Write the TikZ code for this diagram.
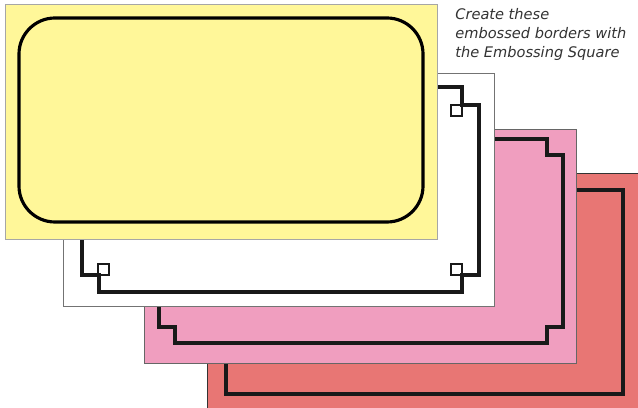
\documentclass[tikz,border=0pt]{standalone}
\usepackage{fontspec}
\newfontfamily\notefont{DejaVu Sans}
\definecolor{cardyellow}{RGB}{255,247,153}
\definecolor{cardpink}{RGB}{240,158,191}
\definecolor{cardred}{RGB}{232,118,116}
\tikzset{
  card/.style={draw=#1,line width=0.5pt},
  emboss/.style={draw=black!90,line width=1.8pt,line join=miter},
  loopsq/.style={draw=black!90,line width=1.5pt}
}
\begin{document}
\begin{tikzpicture}[x=0.02cm,y=-0.02cm]
  \useasboundingbox (0,0) rectangle (638,408);
  % red card
  \fill[cardred] (207,173) rectangle (640,410);
  \draw[card=black!80] (640,173) -- (207,173) -- (207,410);
  \draw[emboss] (226,190) rectangle (623,394);
  % pink card
  \filldraw[card=black!60,fill=cardpink] (144,129) rectangle (576,363);
  \draw[emboss] (175,139) -- (547,139) -- (547,155) -- (563,155) -- (563,327)
    -- (547,327) -- (547,343) -- (175,343) -- (175,327) -- (159,327)
    -- (159,155) -- (175,155) -- cycle;
  % white card
  \filldraw[card=black!55,fill=white] (63,73) rectangle (494,306);
  \draw[emboss] (99,87) -- (462,87) -- (462,105) -- (479,105) -- (479,275)
    -- (462,275) -- (462,292) -- (99,292) -- (99,275) -- (82,275)
    -- (82,105) -- (99,105) -- cycle;
  \foreach \x/\y in {451/105,451/264,98/264,98/105}
    \draw[loopsq] (\x,\y) rectangle ++(11,11);
  % yellow card
  \filldraw[card=black!35,fill=cardyellow] (5,4) rectangle (437,239);
  \draw[line width=1.8pt,rounded corners=0.72cm] (19,18) rectangle (423,222);
  % note
  \node[anchor=north west,inner sep=0,align=left,font=\notefont\itshape\fontsize{8.3}{10.8}\selectfont,text=black!80]
    (note) at (455,8) {Create these\\embossed borders with\\the Embossing Square};
\end{tikzpicture}
\end{document}
